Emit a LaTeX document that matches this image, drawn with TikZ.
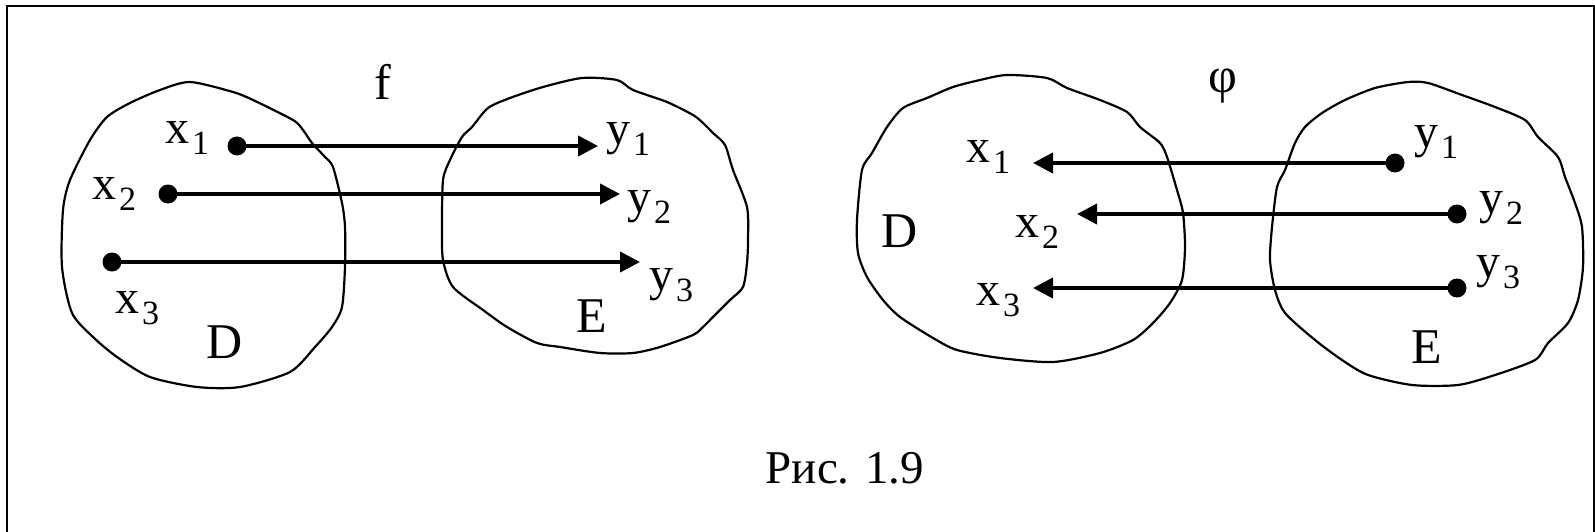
\documentclass[tikz,border=0pt]{standalone}
\usepackage{fontspec}
\setmainfont{Liberation Serif}
\usetikzlibrary{arrows.meta}
\newcommand\sublab[2]{{\fontsize{48}{48}\selectfont #1}\kern3pt\raisebox{-11pt}{\fontsize{34}{34}\selectfont #2}}
\tikzset{
  blob/.style={draw=black, line width=2.2pt, line join=round},
  dotnode/.style={circle, fill=black, inner sep=0pt, minimum size=19pt},
  arr/.style={line width=4pt, -{Triangle[length=20pt,width=20pt]}},
  lab/.style={anchor=base west, inner sep=0pt},
  big/.style={inner sep=0pt, font=\fontsize{50}{50}\selectfont},
}
\begin{document}
\begin{tikzpicture}[x=1pt,y=-1pt]
\useasboundingbox (0,0) rectangle (1595,532);
% frame
\draw[line width=2.5pt] (7,532) -- (7,6) -- (1594,6) -- (1594,532);

% ---------- left panel ----------
\draw[blob] plot[smooth cycle, tension=0.45] coordinates {
 (190,82) (233,92) (253,100) (293,120) (303,130) (312,143) (325,157) (333,167)
 (342,203) (345,227) (345,267) (342,307) (332,327) (315,347) (290,372) (240,387)
 (197,387) (150,377) (117,357) (93,337) (72,313) (62,267) (63,210) (70,180)
 (90,140) (107,117) (130,103) (160,90)};
\draw[blob] plot[smooth cycle, tension=0.45] coordinates {
 (582,78) (617,80) (633,90) (667,102) (693,115) (703,123) (713,133) (725,145)
 (733,170) (747,207) (748,240) (747,263) (743,287) (730,300) (713,317) (703,327)
 (693,335) (660,347) (633,353) (600,353) (560,347) (537,343) (507,327) (483,310)
 (453,287) (443,260) (442,227) (443,180) (450,160) (462,137) (472,127) (488,108)
 (510,98) (543,87)};

\node[dotnode] (lx1) at (237,146) {};
\node[dotnode] (lx2) at (168,194) {};
\node[dotnode] (lx3) at (112,262) {};
\coordinate (ly1) at (598,146);
\coordinate (ly2) at (620,194);
\coordinate (ly3) at (640,262);
\draw[arr] (lx1.center) -- (ly1);
\draw[arr] (lx2.center) -- (ly2);
\draw[arr] (lx3.center) -- (ly3);

\node[lab] (tlx1) at (165,143) {\sublab{x}{1}};
\node[lab] (tlx2) at (92,199) {\sublab{x}{2}};
\node[lab] (tlx3) at (115,313) {\sublab{x}{3}};
\node[lab] (tly1) at (606,145) {\sublab{y}{1}};
\node[lab] (tly2) at (627,212) {\sublab{y}{2}};
\node[lab] (tly3) at (649,290) {\sublab{y}{3}};
\node[big, anchor=base] (tlD) at (225,358) {D};
\node[big, anchor=base] (tlE) at (592,332) {E};
\node[big, anchor=base] (tf) at (383,100) {f};

% ---------- right panel ----------
\draw[blob] plot[smooth cycle, tension=0.45] coordinates {
 (1007,75) (1047,78) (1067,88) (1100,100) (1127,112) (1140,127) (1160,143) (1167,157)
 (1177,190) (1183,213) (1185,247) (1182,280) (1170,303) (1153,323) (1133,340) (1100,353)
 (1053,362) (1000,358) (957,350) (933,338) (900,317) (883,300) (867,277) (858,253)
 (857,220) (862,170) (872,153) (887,127) (903,108) (927,98) (953,87) (980,80)};
\draw[blob] plot[smooth cycle, tension=0.45] coordinates {
 (1408,82) (1428,83) (1462,95) (1495,107) (1525,120) (1538,137) (1558,157) (1565,177)
 (1575,203) (1582,227) (1583,267) (1578,300) (1568,323) (1548,343) (1535,360) (1495,375)
 (1458,385) (1412,385) (1368,375) (1342,360) (1315,340) (1285,313) (1275,290) (1270,260)
 (1272,227) (1277,187) (1285,170) (1295,143) (1305,127) (1322,113) (1345,100) (1375,88)};

\node[dotnode] (ry1) at (1395,163) {};
\node[dotnode] (ry2) at (1457,214) {};
\node[dotnode] (ry3) at (1457,288) {};
\coordinate (rx1) at (1033,163);
\coordinate (rx2) at (1077,214);
\coordinate (rx3) at (1033,288);
\draw[arr] (ry1.center) -- (rx1);
\draw[arr] (ry2.center) -- (rx2);
\draw[arr] (ry3.center) -- (rx3);

\node[lab] (trx1) at (966,162) {\sublab{x}{1}};
\node[lab] (trx2) at (1015,237) {\sublab{x}{2}};
\node[lab] (trx3) at (976,305) {\sublab{x}{3}};
\node[lab] (try1) at (1414,147) {\sublab{y}{1}};
\node[lab] (try2) at (1479,213) {\sublab{y}{2}};
\node[lab] (try3) at (1476,277) {\sublab{y}{3}};
\node[big, anchor=base] (trD) at (900,247) {D};
\node[big, anchor=base] (trE) at (1427,363) {E};
\node[big, anchor=base] (tphi) at (1223,93) {φ};

% caption
\node[anchor=base, inner sep=0pt, font=\fontsize{47}{47}\selectfont] (cap) at (845,483) {Рис. 1.9};
\end{tikzpicture}
\end{document}
